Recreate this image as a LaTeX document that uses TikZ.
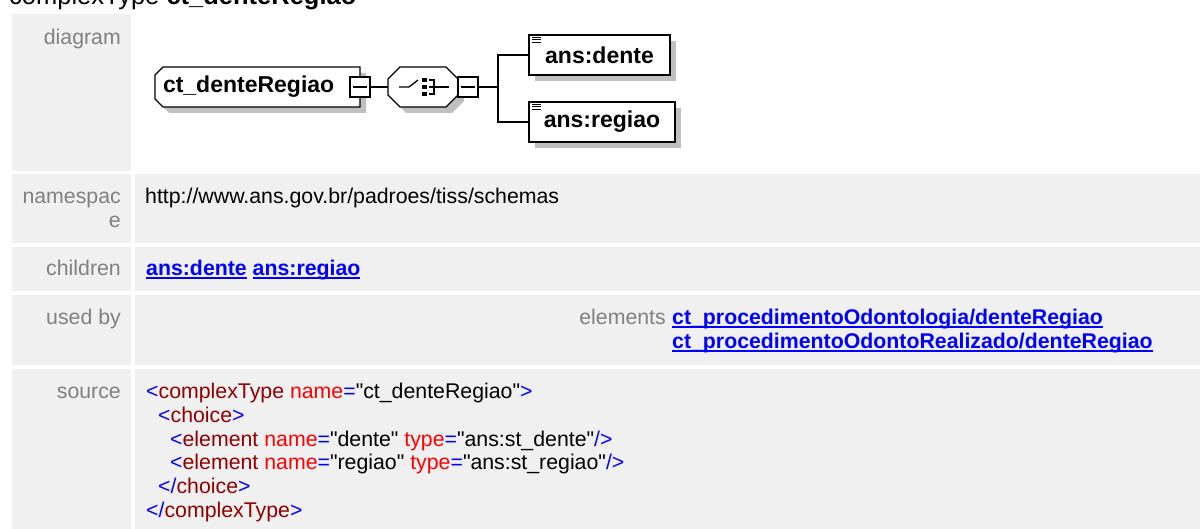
\documentclass[tikz,border=0pt]{standalone}
\usepackage{fontspec}
\setmainfont{Liberation Sans}
\usepackage{xcolor}
\usepackage{tikz}
\usetikzlibrary{positioning,shadows}
\definecolor{cellgray}{HTML}{F0F0F0}
\definecolor{lblgray}{HTML}{808080}
\definecolor{xblue}{HTML}{0000FF}
\definecolor{xtag}{HTML}{900000}
\definecolor{xattr}{HTML}{FF0000}
\definecolor{shadowgray}{HTML}{C0C0C0}
\newcommand{\xb}[1]{\textcolor{xblue}{#1}}
\newcommand{\xt}[1]{\textcolor{xtag}{#1}}
\newcommand{\xa}[1]{\textcolor{xattr}{#1}}
\newcommand{\dq}{\XeTeXglyph\XeTeXcharglyph"22\relax}
\newcommand{\ulink}[1]{\setbox0\hbox{#1}\rlap{\rule[-2.6pt]{\wd0}{1.6pt}}\box0\relax}

\begin{document}
\begin{tikzpicture}[x=1pt,y=-1pt,
      body/.style={inner sep=0pt,anchor=base west,font=\fontsize{21.3}{24}\selectfont},
      lbl/.style={inner sep=0pt,anchor=base east,text=lblgray,font=\fontsize{21.3}{24}\selectfont},
      lnk/.style={body,text=xblue,font=\fontsize{21.3}{24}\selectfont\bfseries},
      shd/.style={drop shadow={shadow xshift=6pt,shadow yshift=-6pt,fill=shadowgray,opacity=1}},
      outline/.style={draw,line width=1.3pt,fill=white},
      ctbox/.style={minimum width=205pt,minimum height=40pt,inner sep=0pt,text width=189pt,align=left,
        font=\fontsize{23}{26}\selectfont\bfseries},
      chbox/.style={minimum width=70pt,minimum height=40pt,inner sep=0pt},
      elbox/.style={outline,shd,minimum height=40pt,inner sep=0pt,
        font=\fontsize{23}{26}\selectfont\bfseries,
        path picture={\foreach \k in {2.2,5,7.8}
          \draw[line width=1pt] ([xshift=3pt,yshift=-\k pt]path picture bounding box.north west) -- ++(9,0);}},
      minus/.style={outline,minimum width=20pt,minimum height=20pt,inner sep=0pt,
        path picture={\draw[line width=1.3pt] ([xshift=3pt]path picture bounding box.west) -- ([xshift=-3pt]path picture bounding box.east);}},
      conn/.style={line width=1.3pt}]
    \useasboundingbox (0,0) rectangle (1200,529);
    % table cells
    \fill[cellgray] (12,14) rectangle (131,171);
    \foreach \ya/\yb in {174/243,247/291,295/365,369/529} {
      \fill[cellgray] (12,\ya) rectangle (131,\yb);
      \fill[cellgray] (135,\ya) rectangle (1200,\yb);
    }
    \node[body,font=\fontsize{25.5}{28}\selectfont] (title) at (9,5) {complexType \textbf{ct\_denteRegiao}};
    % row labels
    \node[lbl] (ldiagram) at (121,45) {diagram};
    \node[lbl] (lns1) at (121,204) {namespac};
    \node[lbl] (lns2) at (121,228) {e};
    \node[lbl] (lchildren) at (121,276) {children};
    \node[lbl] (lusedby) at (121,325) {used by};
    \node[lbl] (lsource) at (121,399) {source};
    % diagram: type box and choice outlines first, text on top
    \path[outline,shd] (163,67) -- (360,67) -- (360,107) -- (163,107) -- (155,99) -- (155,75) -- cycle;
    \path[outline,shd] (400,67) -- (446,67) -- (458,79) -- (458,95) -- (446,107) -- (400,107)
      -- (388,95) -- (388,79) -- cycle;
    \node[ctbox] (ctype) at (257.5,87) {ct\_denteRegiao};
    \node[chbox] (choice) at (423,87) {};
    \begin{scope}[shift={(choice.center)},line width=1.3pt]
      \draw (-24,0) -- (-14,0) -- (-5,-7);
      \foreach \dy in {-7,0,7}
        \fill (-1,\dy-2.3) rectangle (3.5,\dy+2.3);
      \draw (5.5,-7) -- (11,-7) -- (11,7) -- (5.5,7);
      \draw (5.5,0) -- (26,0);
    \end{scope}
    \node[minus] (ctminus) at (360,87) {};
    \node[minus] (chminus) at (468,87) {};
    \node[elbox,minimum width=141pt] (dente) at (599.5,55) {ans:dente};
    \node[elbox,minimum width=146pt] (regiao) at (602,122) {ans:regiao};
    \coordinate (fork) at (498,87);
    \draw[conn] (ctminus.east) -- (choice.west);
    \draw[conn] (chminus.east) -- (fork);
    \draw[conn] (fork) |- (dente.west);
    \draw[conn] (fork) |- (regiao.west);
    % namespace, children, used by
    \node[body] (nsval) at (145,204) {http://www.ans.gov.br/padroes/tiss/schemas};
    \node[lnk] (kids) at (146,276) {\ulink{ans:dente} \ulink{ans:regiao}};
    \node[lbl] (elems) at (666,325) {elements};
    \node[lnk] (use1) at (672,325) {\ulink{ct\_procedimentoOdontologia/denteRegiao}};
    \node[lnk] (use2) at (672,349) {\ulink{ct\_procedimentoOdontoRealizado/denteRegiao}};
    % source
    \node[body] (src1) at (146,399) {\xb{<}\xt{complexType} \xa{name}\xb{=}\dq ct\_denteRegiao\dq\xb{>}};
    \node[body] (src2) at (158,422.6) {\xb{<}\xt{choice}\xb{>}};
    \node[body] (src3) at (170,446.2) {\xb{<}\xt{element} \xa{name}\xb{=}\dq dente\dq\ \xa{type}\xb{=}\dq ans:st\_dente\dq\xb{/>}};
    \node[body] (src4) at (170,469.8) {\xb{<}\xt{element} \xa{name}\xb{=}\dq regiao\dq\ \xa{type}\xb{=}\dq ans:st\_regiao\dq\xb{/>}};
    \node[body] (src5) at (158,493.4) {\xb{</}\xt{choice}\xb{>}};
    \node[body] (src6) at (146,517) {\xb{</}\xt{complexType}\xb{>}};
  \end{tikzpicture}
\end{document}
